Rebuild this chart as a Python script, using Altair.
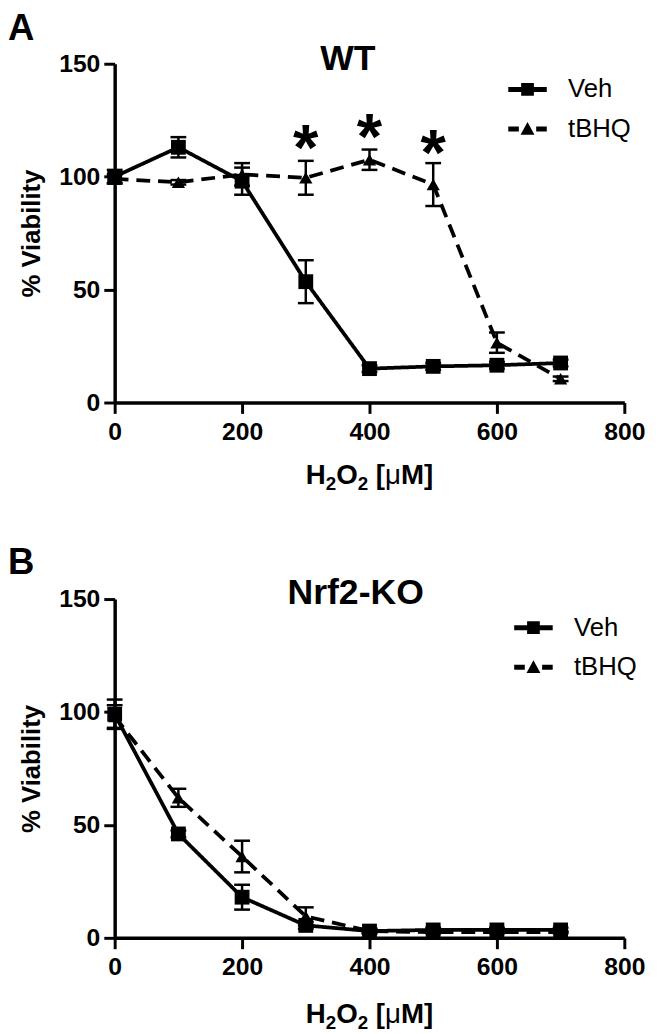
import altair as alt
import pandas as pd

doses = [0, 100, 200, 300, 400, 500, 600, 700]
series = ["Veh", "tBHQ"]

wt_veh_mean = [100, 113, 98, 53.5, 15, 16, 16.5, 17.5]
wt_veh_sem = [3, 4.5, 6, 9.5, 1.5, 1.5, 1.5, 1.5]
wt_tbhq_mean = [99, 97.5, 101, 99.5, 107.5, 96.5, 26.5, 10.5]
wt_tbhq_sem = [2, 1, 5, 7.5, 4.5, 9.5, 4.5, 1]

ko_veh_mean = [99, 46, 18, 5.5, 3, 3.5, 3.5, 3.5]
ko_veh_sem = [6.5, 1.5, 5.5, 1.5, 1, 1, 1, 1]
ko_tbhq_mean = [98, 62, 36, 9.5, 3, 2.5, 2.5, 2.5]
ko_tbhq_sem = [5, 4, 7, 4, 1, 0.5, 0.5, 0.5]

star_doses = [300, 400, 500]
star_levels = [119, 124, 117]

panel_letters = ["A", "B"]
panel_titles = ["WT", "Nrf2-KO"]

x_ticks = [0, 200, 400, 600, 800]
y_ticks = [0, 50, 100, 150]

# x-axis title pieces: text, font size, weight, approx advance (em), baseline shift
xtitle_parts = [
    ("H", 28, "bold", 0.722, 0),
    ("2", 19, "bold", 0.556, 6),
    ("O", 28, "bold", 0.778, 0),
    ("2", 19, "bold", 0.556, 6),
    ("", 28, "bold", 0.278, 0),
    ("[", 28, "bold", 0.333, 0),
    ("μ", 28, "normal", 0.576, 0),
    ("M]", 28, "bold", 1.166, 0),
]

FONT = "Liberation Sans, Arial, DejaVu Sans"
W, H = 516, 343

legend_paths = [
    "M-1,-0.13H-0.33V-0.33H0.33V-0.13H1V0.13H0.33V0.33H-0.33V0.13H-1Z",
    "M-1,-0.13H-0.45V0.13H-1Z M-0.36,0.3L0,-0.36L0.36,0.3Z M0.45,-0.13H1V0.13H0.45Z",
]


def make_df(veh_m, veh_s, tb_m, tb_s):
    rows = []
    for name, m, s in [(series[0], veh_m, veh_s), (series[1], tb_m, tb_s)]:
        for d, mv, sv in zip(doses, m, s):
            rows.append({"dose": d, "mean": mv, "lo": mv - sv, "hi": mv + sv, "series": name})
    return pd.DataFrame(rows)


def xtitle_layers(base_y):
    total = sum(fs * adv for _, fs, _, adv, _ in xtitle_parts)
    cur = W / 2 - total / 2
    out = []
    for txt, fs, wt, adv, shift in xtitle_parts:
        if txt:
            out.append(
                alt.Chart(pd.DataFrame({"t": [txt]}))
                .mark_text(fontSize=fs, fontWeight=wt, font=FONT, color="black", align="left", baseline="alphabetic")
                .encode(text="t:N", x=alt.value(cur), y=alt.value(base_y + shift))
            )
        cur += fs * adv
    return out


def panel(idx, df, stars=None, title_x=236, title_y=6, letter_y=-24, leg_x=418, leg_y=26, xt_y=H + 84):
    base = alt.Chart(df)
    xs = alt.Scale(domain=[0, 800], nice=False)
    ys = alt.Scale(domain=[0, 150], nice=False)
    x = alt.X("dose:Q", scale=xs, axis=alt.Axis(values=x_ticks, title=None, format="d"))
    y = alt.Y("mean:Q", scale=ys, axis=alt.Axis(values=y_ticks, title="% Viability", format="d"))
    dash = alt.StrokeDash("series:N", scale=alt.Scale(domain=series, range=[[1, 0], [14, 8]]), legend=None)
    shape = alt.Shape("series:N", scale=alt.Scale(domain=series, range=["square", "triangle-up"]), legend=None)
    size = alt.Size("series:N", scale=alt.Scale(domain=series, range=[225, 180]), legend=None)

    lines = base.mark_line(color="black", strokeWidth=3.8).encode(x=x, y=y, strokeDash=dash, detail="series:N")
    rules = base.mark_rule(color="black", strokeWidth=2.5).encode(x="dose:Q", y="lo:Q", y2="hi:Q")
    cap_lo = base.mark_tick(orient="horizontal", color="black", thickness=2.5, size=16, opacity=1).encode(x="dose:Q", y="lo:Q")
    cap_hi = base.mark_tick(orient="horizontal", color="black", thickness=2.5, size=16, opacity=1).encode(x="dose:Q", y="hi:Q")
    pts = base.mark_point(filled=True, color="black", opacity=1).encode(x="dose:Q", y="mean:Q", shape=shape, size=size)

    layers = [lines, rules, cap_lo, cap_hi, pts]

    if stars is not None:
        sdf = pd.DataFrame({"dose": stars[0], "level": stars[1], "t": ["*"] * len(stars[0])})
        layers.append(
            alt.Chart(sdf).mark_text(fontSize=66, fontWeight="bold", font=FONT, color="black",
                                     baseline="alphabetic", dy=37)
            .encode(x="dose:Q", y="level:Q", text="t:N")
        )

    layers.append(
        alt.Chart(pd.DataFrame({"t": [panel_letters[idx]]}))
        .mark_text(fontSize=37, fontWeight="bold", font=FONT, color="black", align="left", baseline="alphabetic")
        .encode(text="t:N", x=alt.value(-108), y=alt.value(letter_y))
    )
    layers.append(
        alt.Chart(pd.DataFrame({"t": [panel_titles[idx]]}))
        .mark_text(fontSize=36, fontWeight="bold", font=FONT, color="black", align="center", baseline="alphabetic")
        .encode(text="t:N", x=alt.value(title_x), y=alt.value(title_y))
    )
    for i, name in enumerate(series):
        ldf = pd.DataFrame({"t": [name]})
        layers.append(
            alt.Chart(ldf).mark_point(shape=legend_paths[i], size=1521, filled=True, color="black",
                                      opacity=1, strokeWidth=0)
            .encode(x=alt.value(leg_x), y=alt.value(leg_y + i * 40))
        )
        layers.append(
            alt.Chart(ldf).mark_text(fontSize=26, font=FONT, color="black", align="left", baseline="middle")
            .encode(text="t:N", x=alt.value(leg_x + 41), y=alt.value(leg_y + i * 40))
        )
    layers.extend(xtitle_layers(xt_y))

    return alt.layer(*layers).properties(width=W, height=H)


df_wt = make_df(wt_veh_mean, wt_veh_sem, wt_tbhq_mean, wt_tbhq_sem)
df_ko = make_df(ko_veh_mean, ko_veh_sem, ko_tbhq_mean, ko_tbhq_sem)

pA = panel(0, df_wt, stars=(star_doses, star_levels), title_x=236, title_y=6, letter_y=-24, leg_x=418, leg_y=26, xt_y=H + 83)
pB = panel(1, df_ko, title_x=244, title_y=5, letter_y=-25, leg_x=424, leg_y=29, xt_y=H + 86)

chart = (
    alt.vconcat(pA, pB, spacing=51)
    .properties(padding={"left": 0, "top": -4, "right": 5, "bottom": 0})
    .configure_view(stroke=None)
    .configure_axis(
        domainColor="black", domainWidth=3.5, tickColor="black", tickWidth=3, tickSize=11,
        labelFont=FONT, labelFontWeight="bold", labelFontSize=25, labelColor="black",
        labelPadding=4, labelFlush=False, grid=False,
        titleFont=FONT, titleFontWeight="bold", titleColor="black",
    )
    .configure_axisY(titlePadding=14, titleFontSize=26)
    .configure_axisX(labelPadding=6)
)

chart.save("out.html", embed_options={"renderer": "svg", "actions": False})
